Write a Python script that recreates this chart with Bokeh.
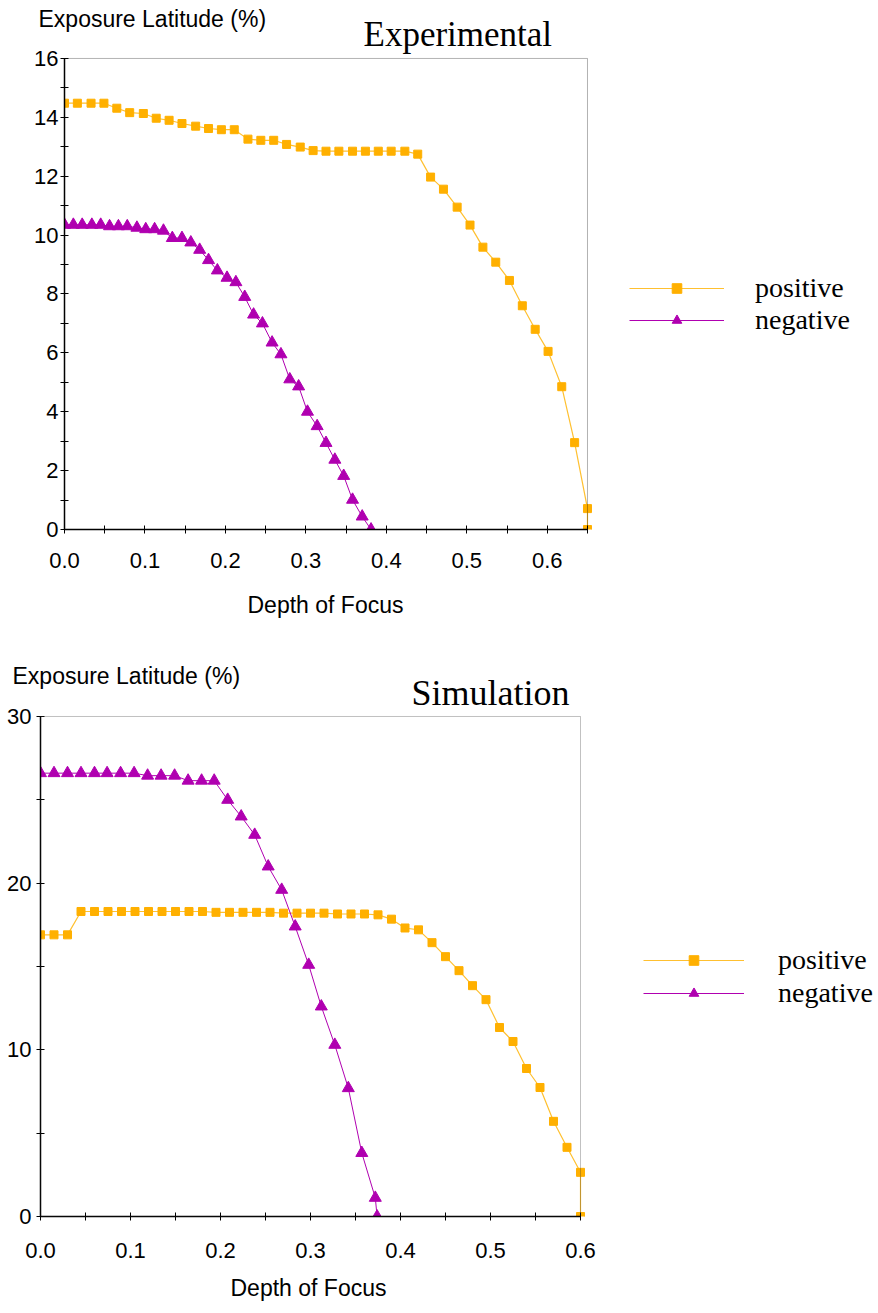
from bokeh.plotting import figure
from bokeh.models import (Range1d, FixedTicker, Legend, LegendItem, NumeralTickFormatter,
                          Title, BoxAnnotation)
from bokeh.embed import file_html
from bokeh.resources import INLINE

ORANGE = "#FFB000"
ORANGE_LINE = "#FFC030"
PURPLE = "#B000B0"

# ---------------- Experimental data ----------------
exp_pos_x = [0.0, 0.016, 0.033, 0.049, 0.065, 0.081, 0.098, 0.114, 0.130, 0.146,
             0.163, 0.179, 0.195, 0.211, 0.228, 0.244, 0.260, 0.276, 0.293, 0.309,
             0.325, 0.341, 0.358, 0.374, 0.390, 0.406, 0.423, 0.439, 0.455, 0.471,
             0.488, 0.504, 0.520, 0.536, 0.553, 0.569, 0.585, 0.601, 0.618, 0.634,
             0.650, 0.650]
exp_pos_y = [14.48, 14.48, 14.48, 14.48, 14.31, 14.16, 14.13, 13.97, 13.90, 13.79,
             13.70, 13.62, 13.58, 13.58, 13.26, 13.22, 13.22, 13.08, 12.99, 12.87,
             12.85, 12.85, 12.85, 12.85, 12.85, 12.85, 12.85, 12.75, 11.97, 11.56,
             10.95, 10.34, 9.59, 9.08, 8.46, 7.60, 6.80, 6.05, 4.85, 2.95,
             0.71, 0.0]

exp_neg_x = [0.0, 0.011, 0.022, 0.034, 0.045, 0.056, 0.067, 0.078, 0.090, 0.101,
             0.112, 0.123, 0.134, 0.146, 0.157, 0.168, 0.179, 0.190, 0.202, 0.213,
             0.224, 0.235, 0.246, 0.258, 0.269, 0.280, 0.291, 0.302, 0.314, 0.325,
             0.336, 0.347, 0.358, 0.370, 0.381]
exp_neg_y = [10.35, 10.35, 10.35, 10.35, 10.35, 10.30, 10.30, 10.30, 10.25, 10.20,
             10.20, 10.15, 9.90, 9.90, 9.75, 9.50, 9.15, 8.80, 8.55, 8.40,
             7.90, 7.30, 7.00, 6.35, 5.95, 5.10, 4.86, 4.00, 3.51, 2.94,
             2.37, 1.82, 1.01, 0.44, 0.0]

# ---------------- Simulation data ----------------
sim_pos_x = [0.0, 0.015, 0.030, 0.045, 0.060, 0.075, 0.090, 0.105, 0.120, 0.135,
             0.150, 0.165, 0.180, 0.195, 0.210, 0.225, 0.240, 0.255, 0.270, 0.285,
             0.300, 0.315, 0.330, 0.345, 0.360, 0.375, 0.390, 0.405, 0.420, 0.435,
             0.450, 0.465, 0.480, 0.495, 0.510, 0.525, 0.540, 0.555, 0.570, 0.585,
             0.600, 0.600]
sim_pos_y = [16.9, 16.9, 16.9, 18.3, 18.3, 18.3, 18.3, 18.3, 18.3, 18.3,
             18.3, 18.3, 18.3, 18.25, 18.25, 18.25, 18.25, 18.25, 18.2, 18.2,
             18.2, 18.2, 18.15, 18.15, 18.15, 18.1, 17.84, 17.31, 17.2, 16.43,
             15.59, 14.75, 13.85, 13.01, 11.34, 10.5, 8.88, 7.74, 5.71, 4.15,
             2.65, 0.0]

sim_neg_x = [0.0, 0.015, 0.030, 0.045, 0.060, 0.074, 0.089, 0.104, 0.119, 0.134,
             0.149, 0.164, 0.179, 0.193, 0.208, 0.223, 0.238, 0.253, 0.268, 0.283,
             0.298, 0.312, 0.327, 0.342, 0.357, 0.372, 0.374]
sim_neg_y = [26.6, 26.6, 26.6, 26.6, 26.6, 26.6, 26.6, 26.6, 26.45, 26.45,
             26.45, 26.15, 26.15, 26.15, 25.0, 24.0, 22.9, 21.0, 19.6, 17.4,
             15.1, 12.6, 10.3, 7.7, 3.81, 1.12, 0.0]

exp_xticks = [0.0, 0.1, 0.2, 0.3, 0.4, 0.5, 0.6]
exp_xminor = [0.05, 0.15, 0.25, 0.35, 0.45, 0.55, 0.65]
exp_yticks = [0, 2, 4, 6, 8, 10, 12, 14, 16]
exp_yminor = [1, 3, 5, 7, 9, 11, 13, 15]
sim_xticks = [0.0, 0.1, 0.2, 0.3, 0.4, 0.5, 0.6]
sim_xminor = [0.05, 0.15, 0.25, 0.35, 0.45, 0.55]
sim_yticks = [0, 10, 20, 30]
sim_yminor = [5, 15, 25]

SANS = "Liberation Sans"
SERIF = "Liberation Serif"


def build(height, left, top, frame_h, xmax_box, ymax_box, xr_end, yr_end,
          xt, xm, yt, ym, font_px, pos_x, pos_y, neg_x, neg_y, sq, tri, ystand, xstand,
          box_color):
    p = figure(width=878, height=height,
               x_range=Range1d(0, xr_end), y_range=Range1d(0, yr_end),
               output_backend="svg", toolbar_location=None, title=None,
               min_border_left=left, min_border_right=0, min_border_top=top,
               min_border_bottom=height - top - frame_h)
    p.xgrid.visible = False
    p.ygrid.visible = False
    p.outline_line_color = None
    p.xaxis.ticker = FixedTicker(ticks=xt, minor_ticks=xm)
    p.yaxis.ticker = FixedTicker(ticks=yt, minor_ticks=ym)
    p.xaxis.bounds = (0, xmax_box)
    p.yaxis.bounds = (0, ymax_box)
    p.xaxis.formatter = NumeralTickFormatter(format="0.0")
    for ax in (p.xaxis, p.yaxis):
        ax.axis_line_color = "black"
        ax.axis_line_width = 1.5
        ax.major_tick_line_color = "black"
        ax.minor_tick_line_color = "black"
        ax.major_tick_in = 4
        ax.major_tick_out = 4
        ax.minor_tick_in = 4
        ax.minor_tick_out = 4
        ax.major_label_text_font = SANS
        ax.major_label_text_font_size = f"{font_px}px"
        ax.major_label_text_color = "black"
    p.yaxis.major_label_standoff = ystand
    p.xaxis.major_label_standoff = xstand

    p.add_layout(BoxAnnotation(left=0, right=xmax_box, bottom=0, top=ymax_box,
                               fill_color=None, line_color=box_color, line_width=1))

    lp = p.line(pos_x, pos_y, line_color=ORANGE_LINE, line_width=1.2)
    sp = p.scatter(pos_x, pos_y, marker="square", size=sq, fill_color=ORANGE, line_color=ORANGE)
    ln = p.line(neg_x, neg_y, line_color=PURPLE, line_width=1)
    sn = p.scatter(neg_x, neg_y, marker="triangle", size=tri, fill_color=PURPLE, line_color=PURPLE)
    return p, (lp, sp), (ln, sn)


def add_legend(p, items, loc, gw, row_h, standoff):
    leg = Legend(items=[LegendItem(label=lab, renderers=list(r)) for lab, r in items],
                 location=loc, glyph_width=gw, glyph_height=24, label_height=row_h,
                 label_standoff=standoff, padding=0, margin=0, spacing=0,
                 border_line_color=None, background_fill_alpha=0,
                 label_text_font=SERIF, label_text_font_size="28px", label_text_color="black")
    p.add_layout(leg, "center")


def add_title(p, text, side, offset, standoff, font, size):
    p.add_layout(Title(text=text, align="left", offset=offset, standoff=standoff,
                       text_color="black", text_font=font, text_font_size=size,
                       text_font_style="normal"), side)


# ---------- top (Experimental) ----------
# plot box 0..0.65 x 0..16 drawn at 804.6 px / unit (x) and 29.44 px / unit (y)
p1, r1p, r1n = build(640, 64, 55, 474, 0.65, 16, 814 / 804.6, 474 / 29.44,
                     exp_xticks, exp_xminor, exp_yticks, exp_yminor, 22,
                     exp_pos_x, exp_pos_y, exp_neg_x, exp_neg_y, 8, 12, 2, 19, "black")
add_title(p1, "Experimental", "above", 299, 4, SERIF, "35px")
add_title(p1, "Exposure Latitude (%)", "above", -26, -42, SANS, "23px")
add_title(p1, "Depth of Focus", "below", 183, 38, SANS, "23px")
add_legend(p1, [("positive", r1p), ("negative", r1n)], (565, 193), 95, 32, 31)

# ---------- bottom (Simulation) ----------
# plot box 0..0.6 x 0..30 drawn at 900 px / unit (x) and 16.7 px / unit (y)
p2, r2p, r2n = build(673, 40, 73, 504, 0.6, 30, 838 / 900, 504 / 16.7,
                     sim_xticks, sim_xminor, sim_yticks, sim_yminor, 22,
                     sim_pos_x, sim_pos_y, sim_neg_x, sim_neg_y, 8, 12, 5, 22, "#333333")
add_title(p2, "Simulation", "above", 371, 2, SERIF, "36px")
add_title(p2, "Exposure Latitude (%)", "above", -28, -38, SANS, "23px")
add_title(p2, "Depth of Focus", "below", 190, 25, SANS, "23px")
add_legend(p2, [("positive", r2p), ("negative", r2n)], (603, 207), 101, 33, 34)

open("out.html", "w").write(file_html([p1, p2], INLINE))
